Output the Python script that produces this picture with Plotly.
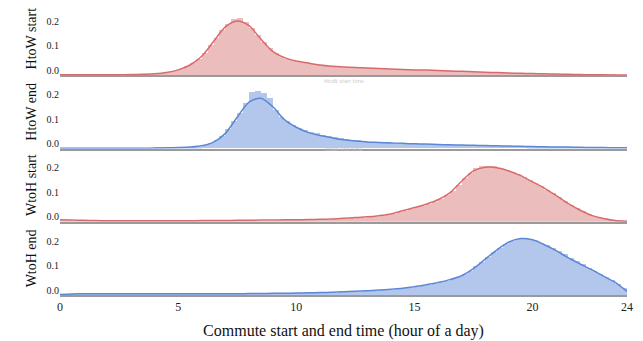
import numpy as np
import plotly.graph_objects as go
from plotly.subplots import make_subplots

# ---------------- data ----------------
panel_names = ["HtoW start", "HtoW end", "WtoH start", "WtoH end"]
x_tick_vals = [0, 5, 10, 15, 20, 24]
y_tick_vals = [0.0, 0.1, 0.2]
x_title = "Commute start and end time (hour of a day)"

# histogram bins: 0.25 hour wide, starting at 0
bin_starts = np.arange(0, 24, 0.25)
# KDE evaluation grid (hours)
kde_hours = np.arange(0, 24.01, 0.5)

hist_htow_start = [
    0.002, 0.002, 0.002, 0.002, 0.002, 0.002, 0.002, 0.002, 0.002, 0.002, 0.002, 0.003, 0.003, 0.003, 0.004, 0.005,
    0.007, 0.009, 0.013, 0.017, 0.026, 0.036, 0.050, 0.068, 0.093, 0.122, 0.153, 0.184, 0.210, 0.232, 0.236, 0.218,
    0.194, 0.165, 0.137, 0.112, 0.092, 0.078, 0.068, 0.061, 0.056, 0.052, 0.048, 0.045, 0.041, 0.039, 0.037, 0.035,
    0.034, 0.033, 0.032, 0.031, 0.030, 0.029, 0.028, 0.027, 0.026, 0.025, 0.024, 0.023, 0.022, 0.022, 0.021, 0.020,
    0.019, 0.018, 0.017, 0.017, 0.016, 0.015, 0.014, 0.013, 0.012, 0.012, 0.011, 0.010, 0.009, 0.009, 0.008, 0.007,
    0.007, 0.006, 0.006, 0.005, 0.005, 0.004, 0.004, 0.003, 0.003, 0.003, 0.002, 0.002, 0.002, 0.002, 0.001, 0.001,
]
kde_htow_start = [
    0.002, 0.002, 0.002, 0.002, 0.002, 0.002, 0.003, 0.004, 0.006, 0.011, 0.022, 0.042, 0.078, 0.138, 0.198, 0.222,
    0.203, 0.148, 0.098, 0.072, 0.058, 0.050, 0.042, 0.037, 0.034, 0.032, 0.030, 0.028, 0.026, 0.024, 0.022, 0.021,
    0.019, 0.017, 0.016, 0.014, 0.012, 0.011, 0.009, 0.008, 0.007, 0.006, 0.005, 0.004, 0.003, 0.002, 0.002, 0.001,
    0.001,
]

hist_htow_end = [
    0.001, 0.001, 0.001, 0.001, 0.001, 0.001, 0.001, 0.001, 0.001, 0.001, 0.001, 0.001, 0.001, 0.001, 0.001, 0.001,
    0.002, 0.002, 0.003, 0.003, 0.004, 0.004, 0.005, 0.007, 0.014, 0.021, 0.034, 0.051, 0.077, 0.111, 0.146, 0.184,
    0.232, 0.236, 0.226, 0.205, 0.158, 0.130, 0.110, 0.095, 0.084, 0.076, 0.068, 0.061, 0.055, 0.049, 0.045, 0.040,
    0.037, 0.034, 0.032, 0.029, 0.027, 0.026, 0.025, 0.024, 0.023, 0.022, 0.021, 0.020, 0.019, 0.019, 0.018, 0.017,
    0.016, 0.016, 0.015, 0.015, 0.014, 0.013, 0.013, 0.012, 0.012, 0.011, 0.011, 0.010, 0.010, 0.009, 0.009, 0.008,
    0.008, 0.007, 0.007, 0.007, 0.006, 0.006, 0.006, 0.005, 0.005, 0.005, 0.004, 0.004, 0.004, 0.003, 0.003, 0.003,
]
kde_htow_end = [
    0.001, 0.001, 0.001, 0.001, 0.001, 0.001, 0.001, 0.001, 0.002, 0.003, 0.004, 0.006, 0.011, 0.026, 0.062, 0.128,
    0.190, 0.206, 0.172, 0.118, 0.087, 0.066, 0.053, 0.044, 0.036, 0.031, 0.027, 0.025, 0.023, 0.021, 0.019, 0.018,
    0.016, 0.015, 0.014, 0.013, 0.012, 0.011, 0.010, 0.009, 0.008, 0.007, 0.006, 0.006, 0.005, 0.004, 0.004, 0.003,
    0.003,
]

hist_wtoh_start = [
    0.009, 0.008, 0.007, 0.007, 0.006, 0.006, 0.005, 0.005, 0.004, 0.004, 0.004, 0.004, 0.004, 0.004, 0.004, 0.004,
    0.004, 0.004, 0.004, 0.004, 0.004, 0.004, 0.004, 0.004, 0.005, 0.005, 0.005, 0.005, 0.005, 0.006, 0.006, 0.006,
    0.006, 0.007, 0.007, 0.007, 0.007, 0.008, 0.008, 0.008, 0.008, 0.009, 0.009, 0.010, 0.010, 0.011, 0.012, 0.013,
    0.015, 0.016, 0.018, 0.019, 0.021, 0.023, 0.026, 0.030, 0.035, 0.041, 0.048, 0.055, 0.061, 0.068, 0.076, 0.085,
    0.096, 0.110, 0.128, 0.152, 0.180, 0.203, 0.222, 0.229, 0.230, 0.232, 0.222, 0.215, 0.205, 0.198, 0.186, 0.175,
    0.160, 0.147, 0.134, 0.120, 0.104, 0.088, 0.072, 0.058, 0.046, 0.034, 0.025, 0.018, 0.012, 0.008, 0.004, 0.002,
]
kde_wtoh_start = [
    0.008, 0.007, 0.006, 0.005, 0.004, 0.004, 0.004, 0.004, 0.004, 0.004, 0.004, 0.004, 0.005, 0.005, 0.005, 0.006,
    0.006, 0.007, 0.007, 0.008, 0.008, 0.009, 0.010, 0.011, 0.014, 0.017, 0.020, 0.025, 0.032, 0.045, 0.058, 0.072,
    0.090, 0.118, 0.166, 0.208, 0.223, 0.221, 0.208, 0.189, 0.163, 0.138, 0.107, 0.075, 0.048, 0.026, 0.013, 0.005,
    0.002,
]

hist_wtoh_end = [
    0.003, 0.004, 0.004, 0.005, 0.005, 0.005, 0.005, 0.005, 0.005, 0.005, 0.005, 0.005, 0.005, 0.005, 0.005, 0.005,
    0.005, 0.005, 0.005, 0.005, 0.005, 0.005, 0.005, 0.005, 0.005, 0.005, 0.005, 0.005, 0.005, 0.005, 0.005, 0.005,
    0.006, 0.006, 0.006, 0.006, 0.007, 0.007, 0.007, 0.008, 0.008, 0.008, 0.009, 0.009, 0.010, 0.010, 0.011, 0.012,
    0.013, 0.014, 0.015, 0.016, 0.017, 0.018, 0.020, 0.022, 0.024, 0.026, 0.028, 0.031, 0.034, 0.038, 0.042, 0.046,
    0.054, 0.060, 0.067, 0.075, 0.086, 0.100, 0.118, 0.137, 0.157, 0.176, 0.194, 0.209, 0.222, 0.230, 0.233, 0.230,
    0.225, 0.216, 0.206, 0.194, 0.182, 0.168, 0.154, 0.141, 0.127, 0.113, 0.101, 0.088, 0.076, 0.063, 0.048, 0.028,
]
kde_wtoh_end = [
    0.002, 0.004, 0.005, 0.005, 0.005, 0.005, 0.005, 0.005, 0.005, 0.005, 0.005, 0.005, 0.005, 0.005, 0.005, 0.005,
    0.006, 0.006, 0.007, 0.007, 0.008, 0.009, 0.010, 0.011, 0.013, 0.015, 0.017, 0.020, 0.024, 0.028, 0.034, 0.042,
    0.051, 0.063, 0.079, 0.108, 0.147, 0.185, 0.217, 0.231, 0.226, 0.206, 0.182, 0.153, 0.128, 0.104, 0.077, 0.052,
    0.015,
]

hists = [hist_htow_start, hist_htow_end, hist_wtoh_start, hist_wtoh_end]
kdes = [kde_htow_start, kde_htow_end, kde_wtoh_start, kde_wtoh_end]

# ---------------- styling ----------------
RED_LINE, RED_FILL = "#d96a6c", "#ecbdbd"
BLUE_LINE, BLUE_FILL = "#5b87d6", "#b2c7eb"
line_colors = [RED_LINE, BLUE_LINE, RED_LINE, BLUE_LINE]
fill_colors = [RED_FILL, BLUE_FILL, RED_FILL, BLUE_FILL]
FONT = "Liberation Serif"

fig = make_subplots(rows=4, cols=1, shared_xaxes=True, vertical_spacing=0)

bin_centers = bin_starts + 0.125
for i in range(4):
    fig.add_trace(go.Bar(x=bin_centers, y=hists[i], width=0.25,
                         marker=dict(color=fill_colors[i], line=dict(width=0)),
                         showlegend=False, hoverinfo="skip"), row=i + 1, col=1)
    fig.add_trace(go.Scatter(x=kde_hours, y=kdes[i], mode="lines",
                             line=dict(color=line_colors[i], width=1.5, shape="spline", smoothing=0.8),
                             showlegend=False), row=i + 1, col=1)
    fig.update_yaxes(row=i + 1, col=1, range=[0, 0.3], tickvals=y_tick_vals,
                     ticktext=[f"{v:.1f}" for v in y_tick_vals],
                     showgrid=False, zeroline=False, showline=False, ticks="",
                     ticklabelshift=-5,
                     tickfont=dict(family=FONT, size=10, color="#222"),
                     title=dict(text=panel_names[i], font=dict(family=FONT, size=14, color="#111"),
                                standoff=6))
    fig.update_xaxes(row=i + 1, col=1, range=[0, 24], showgrid=False, zeroline=False,
                     showline=True, linecolor="#9a9a9a", linewidth=1.5, ticks="",
                     tickvals=x_tick_vals, showticklabels=(i == 3),
                     tickfont=dict(family=FONT, size=12, color="#222"))

fig.update_xaxes(row=4, col=1, title=dict(text=x_title, font=dict(family=FONT, size=16, color="#111"),
                                          standoff=12))

# faint leftover labels under the first two panels
fig.add_annotation(xref="x", yref="paper", x=12.0, y=0.748, text="HtoW start time", showarrow=False,
                   font=dict(family="DejaVu Sans", size=5, color="#c4c4c4"))
fig.add_annotation(xref="x", yref="paper", x=12.0, y=0.498, text="HtoW end time", showarrow=False,
                   font=dict(family="DejaVu Sans", size=5, color="#c4c4c4"))

fig.update_layout(width=643, height=341, margin=dict(l=60, r=16, t=2, b=46),
                  bargap=0, barmode="overlay", plot_bgcolor="white", paper_bgcolor="white",
                  font=dict(family=FONT))

fig.write_html("out.html", config={"displayModeBar": False},
               post_script="document.body.style.margin='0';document.body.style.padding='0';")
